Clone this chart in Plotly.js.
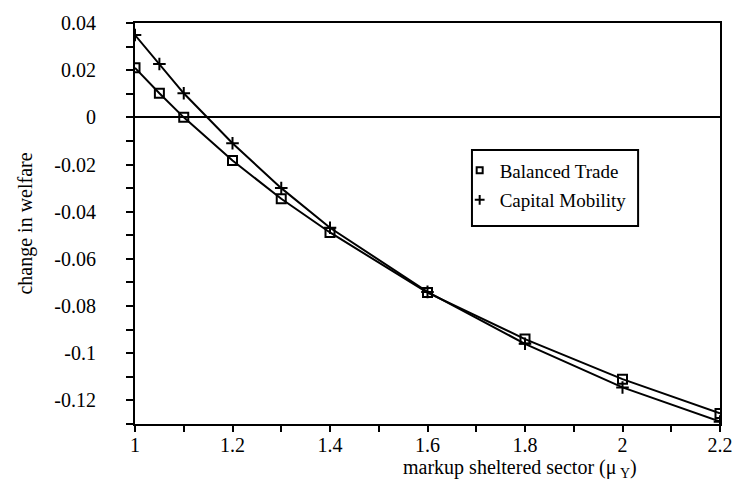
<!DOCTYPE html>
<html>
<head>
<meta charset="utf-8">
<script src="https://cdn.plot.ly/plotly-3.0.1.min.js"></script>
<style>html,body{margin:0;padding:0;background:#fff;}#chart{width:739px;height:484px;}</style>
</head>
<body>
<div id="chart"></div>
<script>
const markups = [1.0, 1.05, 1.1, 1.2, 1.3, 1.4, 1.6, 1.8, 2.0, 2.2];
const balancedTrade = [0.021, 0.0102, 0.0, -0.0183, -0.0345, -0.0488, -0.0743, -0.0940, -0.1110, -0.1255];
const capitalMobility = [0.0349, 0.0226, 0.0102, -0.0110, -0.0300, -0.0468, -0.0740, -0.0960, -0.1145, -0.1290];
const yTickVals = [0.04, 0.02, 0, -0.02, -0.04, -0.06, -0.08, -0.1, -0.12];
const yTickText = ["0.04", "0.02", "0", "-0.02", "-0.04", "-0.06", "-0.08", "-0.1", "-0.12"];
const xTickVals = [1, 1.2, 1.4, 1.6, 1.8, 2, 2.2];
const xTickText = ["1", "1.2", "1.4", "1.6", "1.8", "2", "2.2"];
const seriesNames = ["Balanced Trade", "Capital Mobility"];

const font = "Liberation Serif, Times New Roman, serif";

const traces = [
  {x: markups, y: balancedTrade, mode: "lines+markers", showlegend: false,
   line: {color: "#000", width: 2},
   marker: {symbol: "square-open", size: 9, color: "#000", line: {width: 2, color: "#000"}}},
  {x: markups, y: capitalMobility, mode: "lines+markers", showlegend: false,
   line: {color: "#000", width: 2},
   marker: {symbol: "cross-thin-open", size: 9, color: "#000", line: {width: 2, color: "#000"}}},
  {x: [null], y: [null], mode: "markers", name: seriesNames[0], legendgroup: "a",
   marker: {symbol: "square-open", size: 6, color: "#000", line: {width: 2, color: "#000"}}},
  {x: [null], y: [null], mode: "markers", name: seriesNames[1], legendgroup: "b",
   marker: {symbol: "cross-thin-open", size: 7, color: "#000", line: {width: 2, color: "#000"}}}
];

const layout = {
  width: 739, height: 484,
  margin: {l: 135, r: 19, t: 23, b: 60},
  paper_bgcolor: "#fff", plot_bgcolor: "#fff",
  font: {family: font, color: "#000", size: 20},
  showlegend: true,
  legend: {x: 0.555, y: 0.68, xanchor: "left", yanchor: "top",
           bordercolor: "rgba(0,0,0,0)", borderwidth: 0, bgcolor: "rgba(0,0,0,0)",
           font: {family: font, size: 19, color: "#000"}, itemwidth: 30, tracegroupgap: 2},
  xaxis: {range: [1, 2.2], tickvals: xTickVals, ticktext: xTickText,
          showgrid: false, zeroline: false, showline: true, linecolor: "#000", linewidth: 2,
          mirror: true, ticks: "outside", ticklen: 6, tickwidth: 2, tickcolor: "#000", ticklabelstandoff: -4,
          minor: {dtick: 0.1, ticks: "outside", ticklen: 6, tickwidth: 2, tickcolor: "#000", showgrid: false},
          tickfont: {family: font, size: 20}},
  yaxis: {range: [-0.13, 0.04], tickvals: yTickVals, ticktext: yTickText,
          showgrid: false, zeroline: true, zerolinecolor: "#000", zerolinewidth: 2,
          showline: true, linecolor: "#000", linewidth: 2, mirror: true,
          ticks: "outside", ticklen: 7, tickwidth: 2, tickcolor: "#000", ticklabelstandoff: 26,
          minor: {dtick: 0.01, ticks: "outside", ticklen: 7, tickwidth: 2, tickcolor: "#000", showgrid: false},
          tickfont: {family: font, size: 20}},
  shapes: [
    {type: "rect", xref: "paper", yref: "paper", x0: 0.576, x1: 0.86, y0: 0.494, y1: 0.683,
     line: {color: "#000", width: 2}, fillcolor: "rgba(0,0,0,0)", layer: "below"}
  ],
  annotations: [
    {text: "change in welfare", xref: "paper", yref: "paper", x: -0.188, y: 0.5,
     textangle: -90, showarrow: false, xanchor: "center", yanchor: "middle",
     font: {family: font, size: 20}},
    {text: "markup sheltered sector (μ<sub> Y</sub>)", xref: "paper", yref: "paper", x: 0.862, y: -0.112,
     showarrow: false, xanchor: "right", yanchor: "middle",
     font: {family: font, size: 20}}
  ]
};

Plotly.newPlot("chart", traces, layout, {displayModeBar: false, staticPlot: true});
</script>
</body>
</html>
